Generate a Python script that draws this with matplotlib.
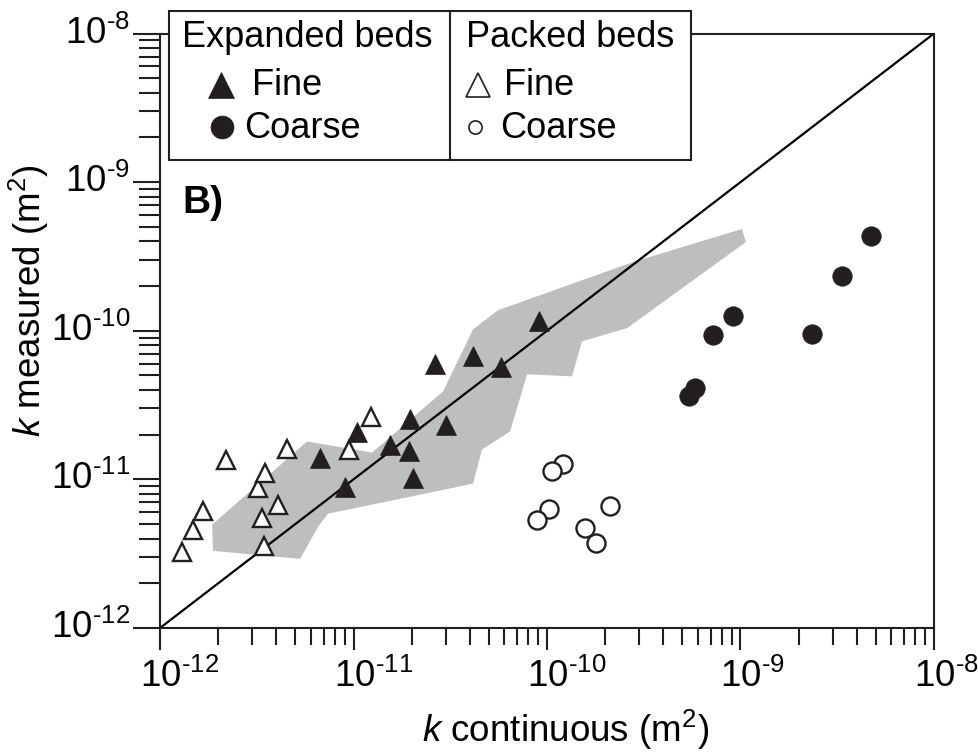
import numpy as np
import matplotlib
matplotlib.use('Agg')
import matplotlib.pyplot as plt
from matplotlib.patches import Rectangle, Polygon
from matplotlib.lines import Line2D
from matplotlib.transforms import ScaledTranslation
from matplotlib.ticker import LogLocator, FixedLocator, FuncFormatter, NullFormatter

FONT = ['Liberation Sans', 'DejaVu Sans']
plt.rcParams['font.family'] = FONT
plt.rcParams['mathtext.fontset'] = 'custom'
plt.rcParams['mathtext.rm'] = 'Liberation Sans'
plt.rcParams['mathtext.it'] = 'Liberation Sans:italic'

INK = '#231f20'
GRAY = '#bcbec0'

# values as log10(k)
exp_fine_x = [-11.173, -11.044, -10.982, -10.811, -10.708, -10.713, -10.693, -10.579, -10.522, -10.382, -10.238, -10.041]
exp_fine_y = [-10.853, -11.049, -10.678, -10.766, -10.597, -10.806, -10.988, -10.226, -10.631, -10.172, -10.246, -9.936]
exp_coarse_x = [-8.326, -8.475, -9.039, -9.142, -8.630, -9.235, -9.266]
exp_coarse_y = [-9.363, -9.632, -9.902, -10.030, -10.024, -10.388, -10.442]
pack_fine_x = [-11.886, -11.829, -11.778, -11.659, -11.494, -11.473, -11.463, -11.457, -11.390, -11.344, -11.023, -10.910]
pack_fine_y = [-11.487, -11.339, -11.211, -10.867, -11.056, -11.258, -11.447, -10.954, -11.170, -10.793, -10.799, -10.577]
pack_coarse_x = [-9.917, -9.974, -9.990, -10.052, -9.674, -9.804, -9.747]
pack_coarse_y = [-10.894, -10.941, -11.197, -11.272, -11.177, -11.325, -11.427]

# grey envelope outline
band_x = [-11.726, -11.731, -11.240, -10.904, -10.537, -10.382, -10.253, -9.556, -8.992, -8.972,
          -9.587, -9.819, -9.871, -10.103, -10.191, -10.336, -10.382, -11.132, -11.183, -11.276]
band_y = [-11.481, -11.305, -10.745, -10.820, -10.408, -9.990, -9.862, -9.538, -9.315, -9.403,
          -9.983, -10.071, -10.307, -10.293, -10.678, -10.799, -11.029, -11.231, -11.319, -11.535]

decades = [-12, -11, -10, -9, -8]

W, H = 979, 755
def fx(px):
    return px / W
def fy(py):
    return 1 - py / H

fig = plt.figure(figsize=(W / 100, H / 100), dpi=100)
ax = fig.add_axes([fx(160), fy(628), fx(934) - fx(160), fy(33.5) - fy(628)])
ax.set_xscale('log')
ax.set_yscale('log')
ax.set_xlim(1e-12, 1e-8)
ax.set_ylim(1e-12, 1e-8)

band = np.column_stack([10.0 ** np.array(band_x), 10.0 ** np.array(band_y)])
ax.add_patch(Polygon(band, closed=True, facecolor=GRAY, edgecolor='none', zorder=1))
ax.plot([1e-12, 1e-8], [1e-12, 1e-8], color='black', lw=1.6, zorder=2)

def pts(a):
    return 10.0 ** np.array(a)

ax.plot(pts(exp_fine_x), pts(exp_fine_y), '^', ms=14.5, mfc=INK, mec=INK, mew=0.5, ls='none', zorder=3)
ax.plot(pts(exp_coarse_x), pts(exp_coarse_y), 'o', ms=14, mfc=INK, mec=INK, mew=0.5, ls='none', zorder=3)
ax.plot(pts(pack_fine_x), pts(pack_fine_y), '^', ms=13, mfc='white', mec=INK, mew=1.7, ls='none', zorder=3)
ax.plot(pts(pack_coarse_x), pts(pack_coarse_y), 'o', ms=13, mfc='white', mec=INK, mew=1.7, ls='none', zorder=3)

for s in ax.spines.values():
    s.set_linewidth(1.5)
    s.set_color(INK)

# hyphen instead of minus, like the original
fmt = FuncFormatter(lambda v, p: '$\\mathregular{10^{\u2010%d}}$' % abs(round(np.log10(v))))
for axis in (ax.xaxis, ax.yaxis):
    axis.set_major_locator(FixedLocator(10.0 ** np.array(decades)))
    axis.set_minor_locator(LogLocator(base=10, subs=np.arange(2, 10), numticks=10))
    axis.set_major_formatter(fmt)
    axis.set_minor_formatter(NullFormatter())
ax.tick_params(which='both', direction='out', color=INK, width=1.5, labelsize=26.5, labelcolor='black')
ax.tick_params(axis='x', which='major', length=16, pad=6)
ax.tick_params(axis='x', which='minor', length=12)
ax.tick_params(axis='y', which='major', length=19.5, pad=2)
ax.tick_params(axis='y', which='minor', length=15)

# the "10" sits centred on the x ticks, exponent hangs to the right
for lab in ax.get_xticklabels():
    lab.set_horizontalalignment('left')
    lab.set_transform(lab.get_transform() + ScaledTranslation(-20 / 100, 0, fig.dpi_scale_trans))
for lab in ax.get_yticklabels():
    lab.set_transform(lab.get_transform() + ScaledTranslation(0, 4 / 100, fig.dpi_scale_trans))

# axis labels placed to match the original layout
fig.text(fx(566), fy(742), r'$k$ continuous (m$^{\mathregular{2}}$)', fontsize=26.5,
         ha='center', va='baseline')
fig.text(fx(29), fy(301), r'$k$ measured (m$^{\mathregular{2}}$)', fontsize=26.5,
         ha='center', va='center', rotation=90)

fig.text(fx(182), fy(213), 'B)', fontsize=28, fontweight='bold', ha='left', va='baseline')

# two-column legend box
fig.add_artist(Rectangle((fx(169), fy(160)), fx(691) - fx(169), fy(11) - fy(160),
                         transform=fig.transFigure, facecolor='white', edgecolor=INK,
                         lw=1.5, zorder=10))
fig.add_artist(Line2D([fx(450), fx(450)], [fy(11), fy(160)], transform=fig.transFigure,
                      color=INK, lw=1.5, zorder=11))

leg_kw = dict(fontsize=26, ha='left', va='baseline', zorder=12)
fig.text(fx(182), fy(47), 'Expanded beds', **leg_kw)
fig.text(fx(252), fy(95), 'Fine', **leg_kw)
fig.text(fx(244), fy(138), 'Coarse', **leg_kw)
fig.text(fx(466), fy(47), 'Packed beds', **leg_kw)
fig.text(fx(504), fy(95), 'Fine', **leg_kw)
fig.text(fx(500), fy(138), 'Coarse', **leg_kw)

mk = dict(transform=fig.transFigure, ls='none', zorder=12)
fig.add_artist(Line2D([fx(221)], [fy(85)], marker='^', ms=18.5, mfc=INK, mec=INK, mew=0.5, **mk))
fig.add_artist(Line2D([fx(222)], [fy(127)], marker='o', ms=16.5, mfc=INK, mec=INK, mew=0.5, **mk))
fig.add_artist(Line2D([fx(478)], [fy(85)], marker='^', ms=17, mfc='white', mec=INK, mew=1.2, **mk))
fig.add_artist(Line2D([fx(475)], [fy(127)], marker='o', ms=9.5, mfc='white', mec=INK, mew=1.2, **mk))

fig.savefig('out.png', dpi=100)
